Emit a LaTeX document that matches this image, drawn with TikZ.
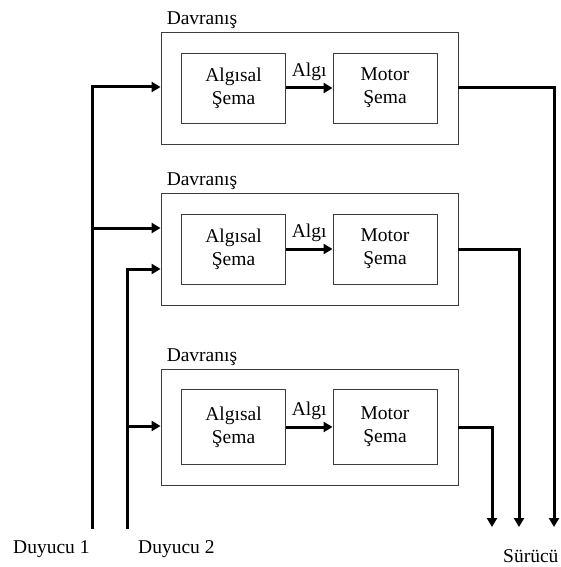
\documentclass[tikz,border=0pt]{standalone}
\usepackage{fontspec}
\setmainfont{Liberation Serif}
\usepackage{tikz}
\usetikzlibrary{arrows.meta,positioning}
\definecolor{boxline}{RGB}{60,60,60}
\tikzstyle{outerbox} = [draw=boxline, line width=0.9pt, minimum width=297pt, minimum height=112pt, inner sep=0pt]
\tikzstyle{schema} = [draw=boxline, line width=0.9pt, minimum width=104pt, minimum height=70pt, align=center, inner sep=0pt]
\tikzstyle{wire} = [line width=3pt, -{Triangle[length=9pt,width=10pt]}]
\tikzstyle{lbl} = [inner sep=0pt, anchor=base west]

\begin{document}
\begin{tikzpicture}[x=1pt, y=-1pt, font=\fontsize{19.5}{23}\selectfont]
\useasboundingbox (0,0) rectangle (560,567);

% Three behaviour blocks
\node[outerbox] (b1) at (309.5,88) {};
\node[outerbox] (b2) at (309.5,249) {};
\node[outerbox, minimum height=116pt] (b3) at (309.5,427) {};
\foreach \b in {b1,b2,b3}
  \node[lbl] (\b-t) at ([shift={(6pt,7pt)}]\b.north west) {Davranış};

% Perceptual and motor schemas
\node[schema] (p1) at (233.5,88) {Algısal\\Şema};
\node[schema] (m1) at (385,88) {Motor\\Şema};
\node[schema] (p2) at (233.5,249) {Algısal\\Şema};
\node[schema] (m2) at (385,249) {Motor\\Şema};
\node[schema, minimum height=75pt] (p3) at (233.5,427) {Algısal\\Şema};
\node[schema, minimum height=75pt] (m3) at (385,427) {Motor\\Şema};
\foreach \i in {1,2,3}
  \draw[wire] (p\i) -- node[above=6pt, inner sep=0pt] {Algı} (m\i);

% Sensors
\node[lbl] (s1) at (13,553) {Duyucu 1};
\node[lbl] (s2) at (138,553) {Duyucu 2};
\coordinate (s1b) at (92,529);
\coordinate (s2b) at (127,529);
\draw[wire] (s1b) |- ([yshift=1pt]b1.west);
\draw[wire] (s1b |- 0,228) -- (b2.west |- 0,228);
\draw[wire] (s2b) |- (b2.west |- 0,269);
\draw[wire] (s2b |- 0,426) -- (b3.west |- 0,426);

% Outputs to the driver
\node[lbl] (d) at (503,562) {Sürücü};
\draw[wire] (b1.east) -| (554,527);
\draw[wire] (b2.east) -| (519,527);
\draw[wire] (b3.east) -| (492,527);
\end{tikzpicture}
\end{document}
